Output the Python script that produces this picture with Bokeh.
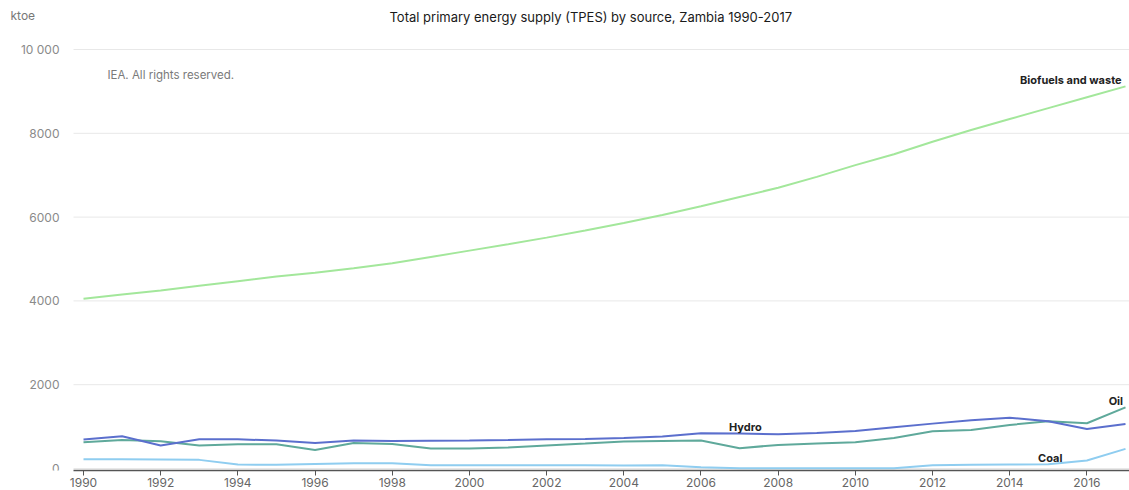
from bokeh.plotting import figure
from bokeh.models import Range1d, Label, FixedTicker
from bokeh.core.properties import value
from bokeh.embed import file_html
from bokeh.resources import INLINE

years = list(range(1990, 2018))
biofuels = [4050, 4150, 4250, 4360, 4470, 4580, 4670, 4780, 4900, 5050, 5200, 5350, 5510, 5680,
            5860, 6050, 6260, 6480, 6700, 6960, 7240, 7500, 7800, 8080, 8340, 8600, 8860, 9120]
hydro = [690, 770, 548, 698, 697, 667, 611, 667, 659, 663, 667, 680, 698, 706,
         730, 762, 841, 833, 817, 849, 897, 984, 1071, 1151, 1214, 1127, 944, 1063]
oil = [627, 683, 651, 548, 579, 579, 444, 611, 587, 476, 476, 500, 548, 595,
       643, 659, 667, 484, 563, 595, 627, 730, 889, 921, 1040, 1127, 1079, 1460]
coal = [222, 220, 215, 206, 95, 88, 107, 127, 127, 79, 79, 80, 80, 80,
        71, 79, 30, 5, 5, 5, 5, 5, 79, 87, 95, 103, 190, 468]

y_ticks = [0, 2000, 4000, 6000, 8000, 10000]
y_tick_labels = ["0", "2000", "4000", "6000", "8000", "10 000"]
x_ticks = list(range(1990, 2017, 2))

TITLE = "Total primary energy supply (TPES) by source, Zambia 1990-2017"
UNIT = "ktoe"
FONT = "Inter"

# frame covers the full canvas width so that header texts sit inside it
X0, X1 = 1987.8494, 2017.1036
Y0, Y1 = -47.7, 11169.5
AXIS_X0 = 1989.741          # where the plotted area (axis line, grid) starts
YLAB_X = 1989.378           # right edge of y tick labels

p = figure(width=1129, height=490, output_backend="svg", toolbar_location=None,
           x_range=Range1d(X0, X1), y_range=Range1d(Y0, Y1),
           y_axis_location=None, title_location=None,
           min_border_left=0, min_border_right=0, min_border_top=0, min_border_bottom=20)
p.outline_line_color = None
p.background_fill_color = "white"
p.border_fill_color = "white"
p.xgrid.visible = False
p.ygrid.visible = False

# horizontal grid lines at the y ticks
p.segment(x0=[AXIS_X0] * len(y_ticks), y0=y_ticks, x1=[X1] * len(y_ticks), y1=y_ticks,
          line_color="#e8e8e8", line_width=1)

# y tick labels
p.text(x=[YLAB_X] * len(y_ticks), y=y_ticks, text=y_tick_labels, text_align="right",
       text_baseline="middle", text_font=value(FONT), text_font_size="12px",
       text_color="#8a8a8a")

p.xaxis.ticker = FixedTicker(ticks=x_ticks)
p.xaxis.bounds = (AXIS_X0, X1)
p.xaxis.axis_line_color = "#555555"
p.xaxis.axis_line_width = 1.5
p.xaxis.major_tick_line_color = "#555555"
p.xaxis.major_tick_in = 0
p.xaxis.major_tick_out = 5
p.xaxis.minor_tick_line_color = None
p.xaxis.major_label_standoff = 2
p.xaxis.major_label_text_font = FONT
p.xaxis.major_label_text_font_size = "12px"
p.xaxis.major_label_text_color = "#666666"

p.line(years, biofuels, line_color="#a3e79b", line_width=2)
p.line(years, oil, line_color="#5fa99b", line_width=2)
p.line(years, hydro, line_color="#5b6fcd", line_width=2)
p.line(years, coal, line_color="#8fcdf0", line_width=2)

lab = dict(text_font=FONT, text_font_size="11px", text_font_style="bold",
           text_color="#222222", text_baseline="middle")
p.add_layout(Label(x=2016.9, y=9270, text="Biofuels and waste", text_align="right", **lab))
p.add_layout(Label(x=2016.75, y=1620, text="Oil", text_align="center", **lab))
p.add_layout(Label(x=2007.15, y=980, text="Hydro", text_align="center", **lab))
p.add_layout(Label(x=2015.05, y=240, text="Coal", text_align="center", **lab))

p.add_layout(Label(x=1990.62, y=9380, text="IEA. All rights reserved.", text_align="left",
                   text_baseline="middle", text_font=FONT, text_font_size="11.5px",
                   text_color="#7a7a7a"))

# header: unit and title
p.add_layout(Label(x=1988.1085, y=10811, text=UNIT, text_align="left", text_baseline="middle",
                   text_font=FONT, text_font_size="12px", text_color="#777777"))
p.add_layout(Label(x=1997.9289, y=10764, text=TITLE, text_align="left", text_baseline="middle",
                   text_font=FONT, text_font_size="13px", text_color="#1a1a1a"))

open("out.html", "w").write(file_html(p, INLINE))
